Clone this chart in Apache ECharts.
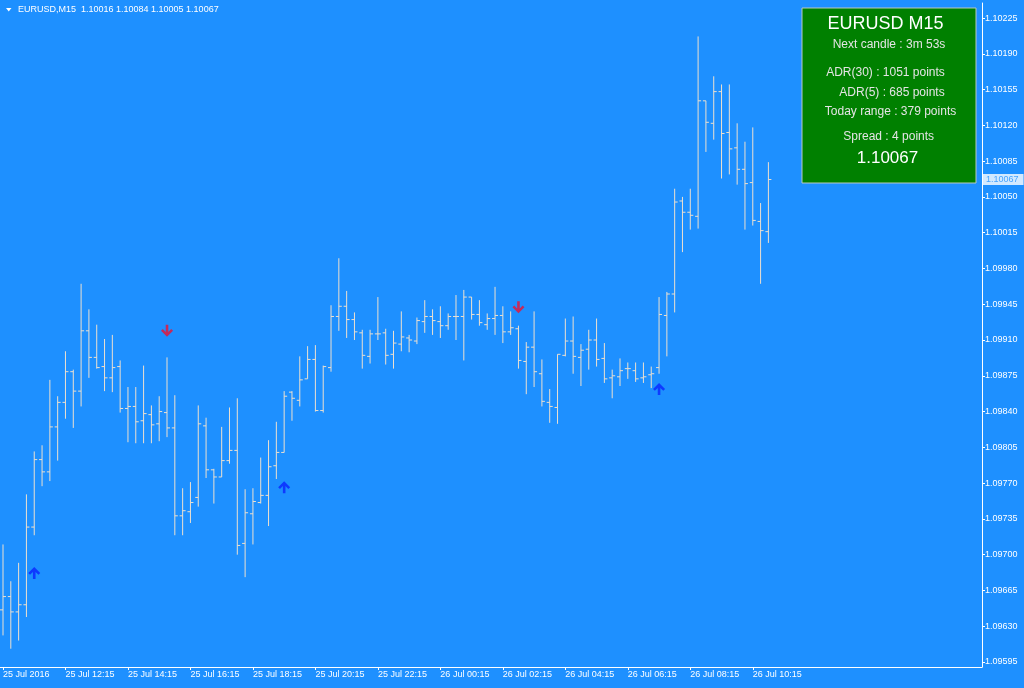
<!DOCTYPE html>
<html><head><meta charset="utf-8">
<script src="https://cdn.jsdelivr.net/npm/echarts@6/dist/echarts.min.js"></script>
<style>html,body{margin:0;padding:0;background:#1E90FF}#c{width:1024px;height:688px}</style>
</head><body><div id="c"></div>
<script>
// EURUSD M15 bars, index 0 = 25 Jul 10:15
const opens=[1.09646,1.09659,1.09644,1.09651,1.09727,1.09793,1.09781,1.09825,1.09849,1.09879,
1.09860,1.09919,1.09893,1.09884,1.09873,1.09884,1.09843,1.09845,1.09831,1.09837,
1.09828,1.09839,1.09824,1.09738,1.09742,1.09756,1.09826,1.09783,1.09776,1.09792,
1.09802,1.09711,1.09740,1.09751,1.09758,1.09787,1.09800,1.09859,1.09851,1.09872,
1.09891,1.09841,1.09883,1.09933,1.09943,1.09930,1.09917,1.09894,1.09916,1.09917,
1.09896,1.09906,1.09912,1.09909,1.09928,1.09933,1.09928,1.09924,1.09933,1.09933,
1.09952,1.09935,1.09925,1.09931,1.09934,1.09918,1.09921,1.09889,1.09903,1.09877,
1.09849,1.09844,1.09895,1.09909,1.09893,1.09901,1.09910,1.09892,1.09873,1.09874,
1.09882,1.09880,1.09873,1.09876,1.09883,1.09934,1.09955,1.10046,1.10035,1.10031,
1.10144,1.10122,1.10153,1.10113,1.10098,1.10077,1.10064,1.10026,1.10016];
const highs=[1.09710,1.09674,1.09692,1.09759,1.09801,1.09807,1.09871,1.09855,1.09899,1.09881,
1.09965,1.09940,1.09925,1.09911,1.09915,1.09890,1.09864,1.09864,1.09885,1.09846,
1.09855,1.09893,1.09856,1.09765,1.09771,1.09846,1.09834,1.09784,1.09825,1.09844,
1.09853,1.09764,1.09765,1.09795,1.09812,1.09830,1.09860,1.09860,1.09894,1.09904,
1.09905,1.09885,1.09944,1.09990,1.09958,1.09937,1.09920,1.09920,1.09952,1.09921,
1.09919,1.09938,1.09915,1.09932,1.09949,1.09940,1.09943,1.09936,1.09954,1.09959,
1.09952,1.09949,1.09936,1.09962,1.09943,1.09938,1.09924,1.09908,1.09938,1.09891,
1.09862,1.09896,1.09931,1.09933,1.09906,1.09920,1.09931,1.09907,1.09881,1.09892,
1.09888,1.09888,1.09888,1.09884,1.09952,1.09957,1.10058,1.10050,1.10058,1.10207,
1.10144,1.10168,1.10160,1.10160,1.10122,1.10104,1.10118,1.10044,1.10084];
const lows=[1.09621,1.09608,1.09616,1.09639,1.09719,1.09767,1.09772,1.09792,1.09833,1.09824,
1.09845,1.09873,1.09882,1.09860,1.09859,1.09839,1.09810,1.09809,1.09809,1.09809,
1.09811,1.09815,1.09719,1.09719,1.09731,1.09747,1.09775,1.09750,1.09776,1.09789,
1.09700,1.09678,1.09710,1.09750,1.09728,1.09774,1.09800,1.09831,1.09845,1.09872,
1.09840,1.09839,1.09879,1.09919,1.09912,1.09910,1.09882,1.09887,1.09910,1.09886,
1.09882,1.09899,1.09898,1.09906,1.09917,1.09915,1.09912,1.09920,1.09910,1.09890,
1.09930,1.09924,1.09920,1.09915,1.09907,1.09915,1.09882,1.09857,1.09864,1.09845,
1.09829,1.09828,1.09894,1.09877,1.09865,1.09881,1.09884,1.09868,1.09853,1.09865,
1.09872,1.09869,1.09868,1.09863,1.09877,1.09894,1.09937,1.09996,1.10018,1.10019,
1.10094,1.10106,1.10068,1.10072,1.10062,1.10018,1.10022,1.09965,1.10005];
const closes=[1.09659,1.09644,1.09651,1.09727,1.09793,1.09781,1.09825,1.09849,1.09879,1.09860,
1.09919,1.09893,1.09883,1.09873,1.09883,1.09843,1.09845,1.09830,1.09838,1.09827,
1.09840,1.09824,1.09738,1.09743,1.09751,1.09828,1.09783,1.09776,1.09792,1.09802,
1.09709,1.09741,1.09752,1.09758,1.09786,1.09800,1.09855,1.09853,1.09871,1.09891,
1.09841,1.09884,1.09933,1.09943,1.09930,1.09918,1.09895,1.09916,1.09916,1.09895,
1.09907,1.09913,1.09910,1.09929,1.09933,1.09929,1.09924,1.09933,1.09933,1.09952,
1.09935,1.09927,1.09931,1.09934,1.09918,1.09922,1.09890,1.09903,1.09879,1.09850,
1.09845,1.09896,1.09909,1.09894,1.09900,1.09910,1.09891,1.09872,1.09875,1.09880,
1.09882,1.09872,1.09874,1.09877,1.09935,1.09955,1.10045,1.10035,1.10032,1.10144,
1.10123,1.10153,1.10112,1.10097,1.10077,1.10063,1.10027,1.10017,1.10067];

const xTickIndex=[0,8,16,24,32,40,48,56,64,72,80,88,96];
const xTickLabels=["25 Jul 2016","25 Jul 12:15","25 Jul 14:15","25 Jul 16:15","25 Jul 18:15","25 Jul 20:15","25 Jul 22:15","26 Jul 00:15","26 Jul 02:15","26 Jul 04:15","26 Jul 06:15","26 Jul 08:15","26 Jul 10:15"];
const yTickLabels=["1.09595","1.09630","1.09665","1.09700","1.09735","1.09770","1.09805","1.09840","1.09875","1.09910","1.09945","1.09980","1.10015","1.10050","1.10085","1.10120","1.10155","1.10190","1.10225"];
const upArrows=[[4,1.09682],[36,1.09766],[84,1.09862]];
const downArrows=[[21,1.09919],[66,1.09942]];
const lastPrice=1.10067;
const headerText="EURUSD,M15  1.10016 1.10084 1.10005 1.10067";
const panelLines=["EURUSD M15","Next candle : 3m 53s","ADR(30) : 1051 points","ADR(5) : 685 points","Today range : 379 points","Spread : 4 points","1.10067"];

const X_MIN=-0.384, X_MAX=125.35;
const ohlc=opens.map((o,i)=>[i,o,highs[i],lows[i],closes[i]]);
const BAR='#ece0d0';
const FONT='"Liberation Sans", Arial, sans-serif';
const arrowPath='path://M6,0 L12,6 L10.2,7.8 L7.3,4.9 L7.3,12 L4.7,12 L4.7,4.9 L1.8,7.8 L0,6 Z';

const chart=echarts.init(document.getElementById('c'),null,{renderer:'canvas'});
const panelPos=[[885.5,24.5,18,'#ffffff'],[889,45,12,'#e4e4e4'],[885.5,73,12,'#e4e4e4'],[892,92.5,12,'#e4e4e4'],[890.5,112,12,'#e4e4e4'],[888.7,136.5,12,'#e4e4e4'],[887.5,158.7,17,'#ffffff']];
const graphics=[
  {type:'polygon',shape:{points:[[6,8],[11.5,8],[8.75,11.5]]},style:{fill:'#ffffff'}},
  {type:'text',style:{text:headerText,x:18,y:10,textVerticalAlign:'middle',fill:'#ffffff',font:'9px '+FONT}},
  {type:'rect',shape:{x:802,y:8,width:174,height:175},style:{fill:'#008000',stroke:'#b8c8c0',lineWidth:1},z:10}
];
panelLines.forEach((t,i)=>{
  const p=panelPos[i];
  graphics.push({type:'text',z:11,style:{text:t,x:p[0],y:p[1],textAlign:'center',textVerticalAlign:'middle',fill:p[3],font:p[2]+'px '+FONT}});
});

chart.setOption({
  animation:false,
  backgroundColor:'#1E90FF',
  grid:{left:0,right:42,top:3,bottom:21},
  xAxis:{type:'value',min:X_MIN,max:X_MAX,
    axisLine:{show:true,onZero:false,lineStyle:{color:'#ffffff',width:1}},
    axisTick:{show:true,length:3,lineStyle:{color:'#ffffff'},customValues:xTickIndex},
    axisLabel:{customValues:xTickIndex,align:'left',margin:3,color:'#ffffff',fontSize:9,fontFamily:FONT,
      formatter:v=>{const k=xTickIndex.indexOf(Math.round(v));return k>=0?xTickLabels[k]:'';}},
    splitLine:{show:false}},
  yAxis:{type:'value',position:'right',min:1.095901,max:1.102397,scale:true,
    axisLine:{show:true,onZero:false,lineStyle:{color:'#ffffff',width:1}},
    axisTick:{show:true,length:3,lineStyle:{color:'#ffffff'},customValues:yTickLabels.map(Number)},
    axisLabel:{customValues:yTickLabels.map(Number),margin:3,color:'#ffffff',fontSize:9,fontFamily:FONT,
      formatter:v=>v.toFixed(5)},
    splitLine:{show:false}},
  series:[
    {type:'custom',data:ohlc,clip:true,encode:{x:0,y:[1,2,3,4]},
      renderItem:function(params,api){
        const x=api.value(0);
        const ph=api.coord([x,api.value(2)]),pl=api.coord([x,api.value(3)]);
        const po=api.coord([x,api.value(1)]),pc=api.coord([x,api.value(4)]);
        const st={stroke:BAR,lineWidth:1};
        return {type:'group',children:[
          {type:'line',shape:{x1:ph[0],y1:ph[1],x2:pl[0],y2:pl[1]},style:st},
          {type:'line',shape:{x1:po[0]-3,y1:po[1],x2:po[0],y2:po[1]},style:st},
          {type:'line',shape:{x1:pc[0],y1:pc[1],x2:pc[0]+3,y2:pc[1]},style:st}
        ]};
      }
    },
    {type:'scatter',data:[[X_MAX,lastPrice]],symbolSize:0,silent:true,clip:false,z:20,
      label:{show:true,position:'right',distance:1,formatter:()=>lastPrice.toFixed(5),
        backgroundColor:'#ffffff',color:'#1E90FF',fontSize:9,fontFamily:FONT,padding:[1,5,1,3]}},
    {type:'scatter',data:upArrows,symbol:arrowPath,symbolSize:12,symbolKeepAspect:true,
      itemStyle:{color:'#0a24ff'},z:5},
    {type:'scatter',data:downArrows,symbol:arrowPath,symbolSize:12,symbolRotate:180,symbolKeepAspect:true,
      itemStyle:{color:'#ee1133'},z:5}
  ],
  graphic:graphics
});
</script></body></html>
